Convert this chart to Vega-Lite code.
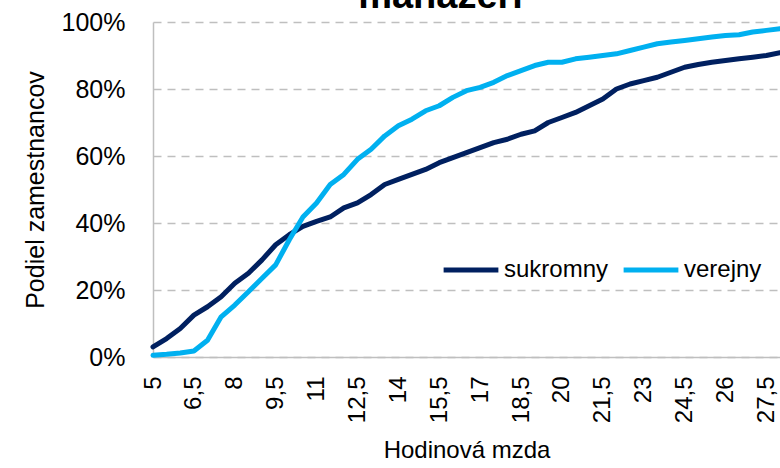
{
  "$schema": "https://vega.github.io/schema/vega-lite/v6.json",
  "width": 627,
  "height": 335,
  "autosize": {"type": "none"},
  "padding": {"left": 153, "top": 22, "right": 0, "bottom": 111},
  "background": "white",
  "title": {"text": "manažéri", "fontSize": 38, "font": "Liberation Sans", "fontWeight": "bold", "color": "black", "anchor": "middle", "frame": "group", "baseline": "alphabetic", "offset": -36, "dx": -26},
  "data": {"values": [
    {"x": 5, "sukromny": 3, "verejny": 0.5},
    {"x": 5.5, "sukromny": 5.5, "verejny": 0.8},
    {"x": 6, "sukromny": 8.5, "verejny": 1.2},
    {"x": 6.5, "sukromny": 12.5, "verejny": 1.8},
    {"x": 7, "sukromny": 15, "verejny": 5},
    {"x": 7.5, "sukromny": 18, "verejny": 12},
    {"x": 8, "sukromny": 22, "verejny": 15.5},
    {"x": 8.5, "sukromny": 25, "verejny": 19.5},
    {"x": 9, "sukromny": 29, "verejny": 23.5},
    {"x": 9.5, "sukromny": 33.5, "verejny": 27.5},
    {"x": 10, "sukromny": 36.5, "verejny": 35},
    {"x": 10.5, "sukromny": 39, "verejny": 41.8},
    {"x": 11, "sukromny": 40.5, "verejny": 46},
    {"x": 11.5, "sukromny": 41.8, "verejny": 51.5},
    {"x": 12, "sukromny": 44.5, "verejny": 54.5},
    {"x": 12.5, "sukromny": 46, "verejny": 59},
    {"x": 13, "sukromny": 48.5, "verejny": 62},
    {"x": 13.5, "sukromny": 51.5, "verejny": 66},
    {"x": 14, "sukromny": 53, "verejny": 69},
    {"x": 14.5, "sukromny": 54.5, "verejny": 71},
    {"x": 15, "sukromny": 56, "verejny": 73.5},
    {"x": 15.5, "sukromny": 58, "verejny": 75},
    {"x": 16, "sukromny": 59.5, "verejny": 77.5},
    {"x": 16.5, "sukromny": 61, "verejny": 79.5},
    {"x": 17, "sukromny": 62.5, "verejny": 80.5},
    {"x": 17.5, "sukromny": 64, "verejny": 82},
    {"x": 18, "sukromny": 65, "verejny": 84},
    {"x": 18.5, "sukromny": 66.5, "verejny": 85.5},
    {"x": 19, "sukromny": 67.5, "verejny": 87},
    {"x": 19.5, "sukromny": 70, "verejny": 88},
    {"x": 20, "sukromny": 71.5, "verejny": 88},
    {"x": 20.5, "sukromny": 73, "verejny": 89},
    {"x": 21, "sukromny": 75, "verejny": 89.5},
    {"x": 21.5, "sukromny": 77, "verejny": 90},
    {"x": 22, "sukromny": 80, "verejny": 90.5},
    {"x": 22.5, "sukromny": 81.5, "verejny": 91.5},
    {"x": 23, "sukromny": 82.5, "verejny": 92.5},
    {"x": 23.5, "sukromny": 83.5, "verejny": 93.5},
    {"x": 24, "sukromny": 85, "verejny": 94},
    {"x": 24.5, "sukromny": 86.5, "verejny": 94.5},
    {"x": 25, "sukromny": 87.3, "verejny": 95},
    {"x": 25.5, "sukromny": 88, "verejny": 95.5},
    {"x": 26, "sukromny": 88.5, "verejny": 96},
    {"x": 26.5, "sukromny": 89, "verejny": 96.2},
    {"x": 27, "sukromny": 89.5, "verejny": 97},
    {"x": 27.5, "sukromny": 90, "verejny": 97.5},
    {"x": 28, "sukromny": 90.8, "verejny": 98}
  ]},
  "transform": [{"fold": ["sukromny", "verejny"], "as": ["serie", "podiel"]}],
  "mark": {"type": "line", "strokeWidth": 5, "strokeCap": "round", "strokeJoin": "round"},
  "encoding": {
    "x": {
      "field": "x", "type": "quantitative",
      "scale": {"domain": [5, 28], "nice": false, "zero": false},
      "axis": {
        "values": [5, 6.5, 8, 9.5, 11, 12.5, 14, 15.5, 17, 18.5, 20, 21.5, 23, 24.5, 26, 27.5],
        "format": ".1~f",
        "labelExpr": "replace(datum.label, '.', ',')",
        "labelAngle": -90, "labelFontSize": 24, "labelFont": "Liberation Sans", "labelColor": "black",
        "labelPadding": 19, "ticks": false, "grid": false, "labelFlush": false, "labelOverlap": false,
        "domainColor": "#BFBFBF", "domainWidth": 1.5,
        "title": "Hodinová mzda", "titleFontSize": 24, "titleFont": "Liberation Sans", "titleFontWeight": "normal", "titleColor": "black", "titlePadding": 16
      }
    },
    "y": {
      "field": "podiel", "type": "quantitative",
      "scale": {"domain": [0, 100], "nice": false},
      "axis": {
        "values": [0, 20, 40, 60, 80, 100],
        "labelExpr": "datum.value + '%'",
        "labelFontSize": 25, "labelFont": "Liberation Sans", "labelColor": "black", "labelPadding": 28,
        "ticks": false, "domainColor": "#BFBFBF", "domainWidth": 1.5,
        "grid": true, "gridColor": "#BFBFBF", "gridDash": [8, 6], "gridWidth": 1.5,
        "title": "Podiel zamestnancov", "titleFontSize": 25, "titleFont": "Liberation Sans", "titleFontWeight": "normal", "titleColor": "black", "titlePadding": 13
      }
    },
    "color": {
      "field": "serie", "type": "nominal",
      "scale": {"domain": ["sukromny", "verejny"], "range": ["#002060", "#00B0F0"]},
      "legend": {
        "orient": "none", "legendX": 288, "legendY": 218, "direction": "horizontal", "title": null,
        "symbolType": "stroke", "symbolStrokeWidth": 5, "symbolSize": 3000,
        "labelFontSize": 24, "labelFont": "Liberation Sans", "labelColor": "black",
        "columnPadding": 4, "labelOffset": 3
      }
    }
  },
  "config": {"view": {"stroke": null}}
}
